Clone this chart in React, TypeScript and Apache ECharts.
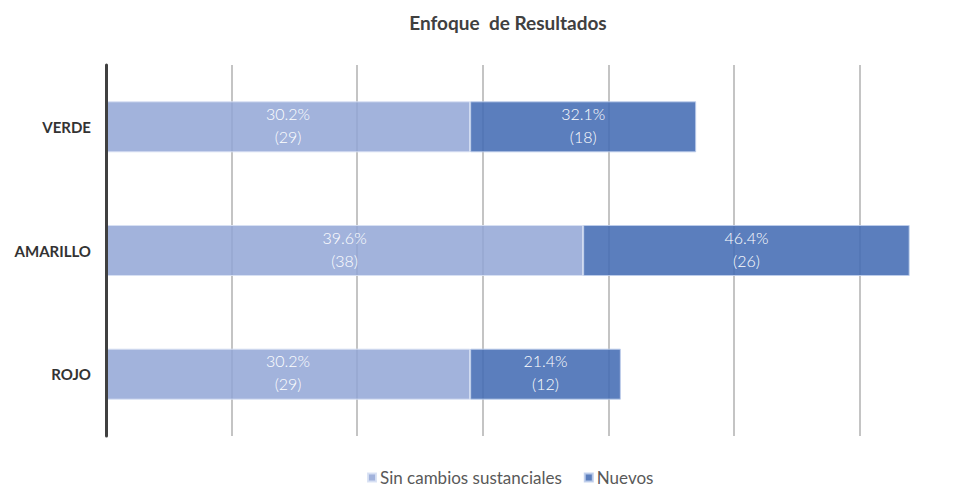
import React, { useEffect, useRef } from "react";
import * as echarts from "echarts";

const categories = ["VERDE", "AMARILLO", "ROJO"];
const seriesNames = ["Sin cambios sustanciales", "Nuevos"];
const sinCambiosCount = [29, 38, 29];
const sinCambiosPct = [30.2, 39.6, 30.2];
const nuevosCount = [18, 26, 12];
const nuevosPct = [32.1, 46.4, 21.4];

const FONT = "Lato, 'Open Sans', sans-serif";

export default function App() {
  const ref = useRef<HTMLDivElement>(null);
  useEffect(() => {
    if (!ref.current) return;
    const chart = echarts.init(ref.current, undefined, { renderer: "svg" });
    const mkLabel = (pcts: number[]) => ({
      show: true,
      position: "inside",
      color: "#ffffff",
      fontFamily: FONT,
      fontSize: 16,
      fontWeight: 300,
      lineHeight: 23,
      offset: [0, -2],
      formatter: (p: any) => `${pcts[p.dataIndex].toFixed(1)}%\n(${p.value})`,
    });
    chart.setOption({
      animation: false,
      title: {
        text: "Enfoque  de Resultados",
        left: 503,
        top: 8,
        textAlign: "center",
        textStyle: { fontFamily: FONT, fontSize: 19, fontWeight: "bold", color: "#404040" },
      },
      legend: {
        bottom: 2,
        left: 362,
        icon: "rect",
        itemWidth: 8,
        itemHeight: 8,
        itemGap: 22,
        textStyle: { fontFamily: FONT, fontSize: 17, color: "#595959", padding: [0, 0, 0, -1] },
        data: seriesNames,
      },
      grid: { left: 106, right: 15, top: 65, bottom: 57, containLabel: false },
      xAxis: {
        type: "value",
        min: 0,
        max: 70,
        interval: 10,
        axisLabel: { show: false },
        axisLine: { show: false },
        axisTick: { show: false },
        splitLine: { show: true, lineStyle: { color: "#c4c4c4", width: 2 } },
      },
      yAxis: {
        type: "category",
        data: categories,
        inverse: true,
        axisLine: { show: true, lineStyle: { color: "#404040", width: 3 } },
        axisTick: { show: false },
        axisLabel: {
          margin: 15,
          fontFamily: FONT,
          fontSize: 15,
          fontWeight: "bold",
          color: "#333333",
        },
        z: 10,
      },
      series: [
        {
          name: seriesNames[0],
          type: "bar",
          stack: "total",
          barWidth: 51,
          data: sinCambiosCount,
          itemStyle: { color: "rgba(146,166,214,0.85)", borderColor: "rgba(215,224,243,0.9)", borderWidth: 1 },
          label: mkLabel(sinCambiosPct),
        },
        {
          name: seriesNames[1],
          type: "bar",
          stack: "total",
          barWidth: 51,
          data: nuevosCount,
          itemStyle: { color: "rgba(68,108,180,0.88)", borderColor: "rgba(190,205,235,0.9)", borderWidth: 1 },
          label: mkLabel(nuevosPct),
        },
      ],
    });
    return () => chart.dispose();
  }, []);
  return (
    <div style={{ position: "absolute", left: 0, top: 0, width: 977, height: 493, overflow: "hidden", background: "#ffffff" }}>
      <div ref={ref} style={{ width: 1000, height: 493 }} />
    </div>
  );
}
